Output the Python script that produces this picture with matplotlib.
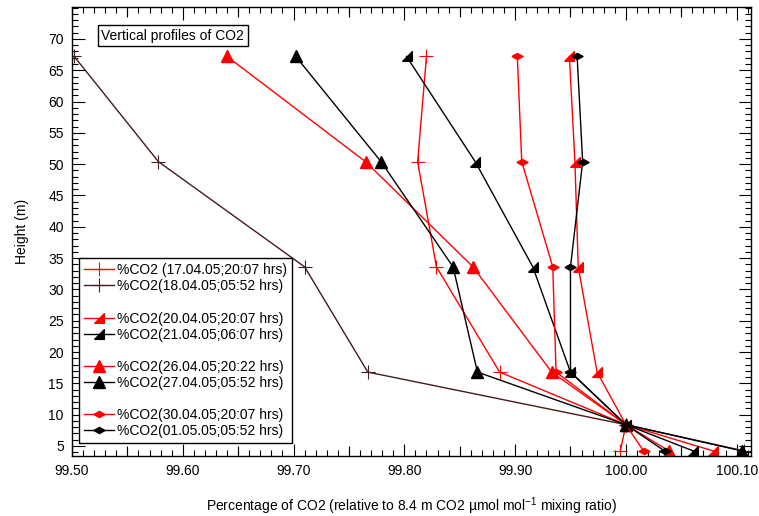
import matplotlib
matplotlib.use("Agg")
import matplotlib.pyplot as plt
from matplotlib.lines import Line2D
from matplotlib.ticker import MultipleLocator, FormatStrFormatter
import numpy as np

plt.rcParams["font.family"] = ["Liberation Sans", "DejaVu Sans"]
plt.rcParams["font.size"] = 10
plt.rcParams["axes.unicode_minus"] = False
plt.rcParams["mathtext.fontset"] = "custom"
plt.rcParams["mathtext.rm"] = "Liberation Sans"
plt.rcParams["mathtext.default"] = "rm"

# tower levels (m)
heights = [67.2, 50.4, 33.6, 16.8, 8.4, 4.2]

# % CO2 relative to 8.4 m level, one list per profile
co2_1704_2007 = [99.820, 99.812, 99.829, 99.886, 100.0, 99.995]
co2_1804_0552 = [99.502, 99.578, 99.710, 99.767, 100.0, 100.107]
co2_2004_2007 = [99.949, 99.954, 99.957, 99.974, 100.0, 100.079]
co2_2104_0607 = [99.802, 99.864, 99.916, 99.950, 100.0, 100.061]
co2_2604_2022 = [99.640, 99.765, 99.862, 99.933, 100.0, 100.039]
co2_2704_0552 = [99.702, 99.779, 99.844, 99.866, 100.0, 100.105]
co2_3004_2007 = [99.902, 99.906, 99.934, 99.937, 100.0, 100.016]
co2_0105_0552 = [99.956, 99.961, 99.950, 99.950, 100.0, 100.035]

labels = [
    "%CO2 (17.04.05;20:07 hrs)",
    "%CO2(18.04.05;05:52 hrs)",
    "%CO2(20.04.05;20:07 hrs)",
    "%CO2(21.04.05;06:07 hrs)",
    "%CO2(26.04.05;20:22 hrs)",
    "%CO2(27.04.05;05:52 hrs)",
    "%CO2(30.04.05;20:07 hrs)",
    "%CO2(01.05.05;05:52 hrs)",
]

# custom markers
half_tri = [(-1, -1), (1, -1), (1, 1), (-1, -1)]
flat_diamond = [(-1, 0), (0, 0.55), (1, 0), (0, -0.55), (-1, 0)]

brown = "#451b1b"
styles = [
    dict(color="red", marker="+", ms=10, mew=0.8),
    dict(color=brown, marker="+", ms=10, mew=0.8),
    dict(color="red", marker=half_tri, ms=7),
    dict(color="black", marker=half_tri, ms=7),
    dict(color="red", marker="^", ms=8),
    dict(color="black", marker="^", ms=8),
    dict(color="red", marker=flat_diamond, ms=8),
    dict(color="black", marker=flat_diamond, ms=8),
]

series = [co2_1704_2007, co2_1804_0552, co2_2004_2007, co2_2104_0607,
          co2_2604_2022, co2_2704_0552, co2_3004_2007, co2_0105_0552]

fig = plt.figure(figsize=(7.59, 5.16), dpi=100)
ax = fig.add_axes([0.0949, 0.1163, 0.8946, 0.8701])

lines = []
for vals, st, lab in zip(series, styles, labels):
    ln, = ax.plot(vals, heights, lw=1.0, label=lab, **st)
    lines.append(ln)

ax.set_xlim(99.5, 100.113)
ax.set_ylim(3.4, 75.1)

ax.xaxis.set_major_locator(MultipleLocator(0.1))
ax.xaxis.set_minor_locator(MultipleLocator(0.01))
ax.xaxis.set_major_formatter(FormatStrFormatter("%.2f"))
ax.yaxis.set_major_locator(MultipleLocator(5))
ax.yaxis.set_minor_locator(MultipleLocator(1))
ax.set_yticks(np.arange(5, 71, 5))

ax.tick_params(which="both", direction="in", top=True, right=True, width=0.8)
ax.tick_params(which="major", length=9, labelsize=10, pad=6)
ax.tick_params(which="minor", length=4.5)

# medium ticks at 0.05 steps
for loc in ("bottom", "top"):
    sec = ax.secondary_xaxis(loc)
    sec.set_xticks(np.arange(99.55, 100.11, 0.1))
    sec.tick_params(direction="in", length=7, width=0.8, labelbottom=False, labeltop=False)
    sec.spines[loc].set_visible(False)

for sp in ax.spines.values():
    sp.set_linewidth(1.0)

ax.set_xlabel("Percentage of CO2 (relative to 8.4 m CO2 \u00b5mol mol$^{-1}$ mixing ratio)",
              fontsize=10, labelpad=12)
ax.set_ylabel("Height (m)", fontsize=10, labelpad=14)

ax.text(0.043, 0.9365, "Vertical profiles of CO2", transform=ax.transAxes,
        va="center", ha="left", fontsize=10,
        bbox=dict(boxstyle="square,pad=0.25", fc="white", ec="black", lw=1.0))

blank = Line2D([], [], linestyle="none", marker="none")
handles = [lines[0], lines[1], blank, lines[2], lines[3], blank,
           lines[4], lines[5], blank, lines[6], lines[7]]
leg_labels = [labels[0], labels[1], " ", labels[2], labels[3], " ",
              labels[4], labels[5], " ", labels[6], labels[7]]
leg = ax.legend(handles, leg_labels, loc="lower left", bbox_to_anchor=(0.0103, 0.029),
                borderaxespad=0, fancybox=False, numpoints=1, fontsize=10,
                labelspacing=0.15, handlelength=2.2, handletextpad=0.2,
                borderpad=0.35, framealpha=1)
leg.get_frame().set_edgecolor("black")
leg.get_frame().set_linewidth(1.0)

fig.savefig("out.png", dpi=100)
